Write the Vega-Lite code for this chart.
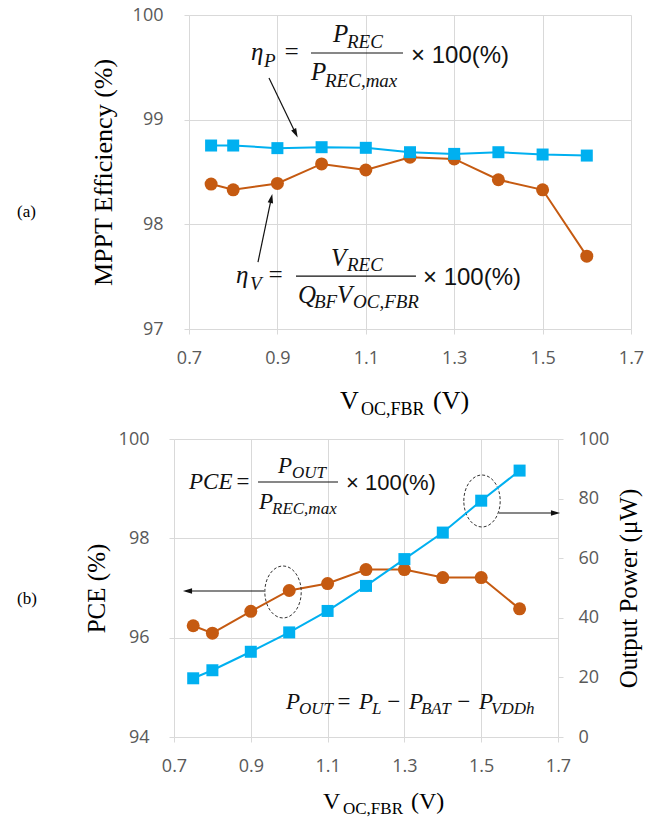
{
  "$schema": "https://vega.github.io/schema/vega-lite/v6.json",
  "background": "white",
  "padding": {"left": 16, "top": 6, "right": 0, "bottom": 0},
  "autosize": {"type": "pad"},
  "spacing": 10,
  "config": {
    "view": {"stroke": null},
    "axis": {
      "labelFont": "Open Sans", "labelFontSize": 18, "labelColor": "#595959",
      "gridColor": "#d9d9d9", "tickColor": "#d9d9d9", "domain": false, "tickSize": 5,
      "titleFont": "Liberation Serif", "titleFontWeight": "normal", "titleColor": "#000000",
      "labelFlush": false, "labelOverlap": false
    }
  },
  "datasets": {
    "top": [
      {"v":0.75,"s":"V","e":98.385},{"v":0.8,"s":"V","e":98.330},{"v":0.9,"s":"V","e":98.391},{"v":1.0,"s":"V","e":98.577},{"v":1.1,"s":"V","e":98.519},{"v":1.2,"s":"V","e":98.641},{"v":1.3,"s":"V","e":98.625},{"v":1.4,"s":"V","e":98.426},{"v":1.5,"s":"V","e":98.330},{"v":1.6,"s":"V","e":97.696},
      {"v":0.75,"s":"P","e":98.753},{"v":0.8,"s":"P","e":98.753},{"v":0.9,"s":"P","e":98.728},{"v":1.0,"s":"P","e":98.737},{"v":1.1,"s":"P","e":98.731},{"v":1.2,"s":"P","e":98.689},{"v":1.3,"s":"P","e":98.673},{"v":1.4,"s":"P","e":98.689},{"v":1.5,"s":"P","e":98.667},{"v":1.6,"s":"P","e":98.657}
    ],
    "bot": [
      {"v":0.75,"pce":96.24,"pout":19.7},{"v":0.8,"pce":96.09,"pout":22.4},{"v":0.9,"pce":96.53,"pout":28.6},{"v":1.0,"pce":96.95,"pout":35.1},{"v":1.1,"pce":97.09,"pout":42.3},{"v":1.2,"pce":97.37,"pout":50.7},{"v":1.3,"pce":97.37,"pout":59.7},{"v":1.4,"pce":97.21,"pout":68.6},{"v":1.5,"pce":97.21,"pout":79.3},{"v":1.6,"pce":96.58,"pout":89.4}
    ],
    "topMain": [{"v":0.8403,"e":99.570,"t":"η"},{"v":0.9127,"e":99.570,"t":"="},{"v":1.0258,"e":99.742,"t":"P"},{"v":0.976,"e":99.379,"t":"P"},{"v":0.8063,"e":97.440,"t":"η"},{"v":0.8765,"e":97.440,"t":"="},{"v":1.0213,"e":97.602,"t":"V"},{"v":0.9466,"e":97.248,"t":"Q"},{"v":1.0348,"e":97.248,"t":"V"}],
    "topSub": [{"v":0.8697,"e":99.503,"t":"P"},{"v":1.0575,"e":99.685,"t":"REC"},{"v":1.0077,"e":99.312,"t":"REC,max"},{"v":0.8380,"e":97.373,"t":"V"},{"v":1.0575,"e":97.554,"t":"REC"},{"v":0.9828,"e":97.201,"t":"BF"},{"v":1.0710,"e":97.201,"t":"OC,FBR"}],
    "topPlain": [{"v":1.2023,"e":99.541,"t":"× 100(%)"},{"v":1.2294,"e":97.420,"t":"× 100(%)"}],
    "topFrac": [{"v":0.976,"v2":1.1842,"e":99.637},{"v":0.9421,"v2":1.2135,"e":97.506}],
    "topArrow": [{"id":1,"v":0.881,"e":99.398,"v2":0.9398,"e2":98.882},{"id":2,"v":0.8561,"e":97.640,"v2":0.8855,"e2":98.233}],
    "topTitle": [{"v":1.0416,"e":96.236,"t":"V"},{"v":1.2520,"e":96.236,"t":"(V)"}],
    "topTitleSub": [{"v":1.0891,"e":96.178,"t":"OC,FBR"}],
    "topTag": [{"v":0.3109,"e":98.118,"t":"(a)"}],
    "botMain": [{"v":0.7391,"pce":98.993,"t":"PCE"},{"v":0.8589,"pce":98.993,"t":"="},{"v":0.9708,"pce":99.315,"t":"P"},{"v":0.9214,"pce":98.591,"t":"P"},{"v":0.9917,"pce":94.564,"t":"P"},{"v":1.1219,"pce":94.564,"t":"="},{"v":1.1818,"pce":94.564,"t":"P"},{"v":1.2521,"pce":94.564,"t":"−"},{"v":1.3120,"pce":94.564,"t":"P"},{"v":1.4344,"pce":94.564,"t":"−"},{"v":1.4943,"pce":94.564,"t":"P"}],
    "botSub": [{"v":1.0073,"pce":99.215,"t":"OUT"},{"v":0.9552,"pce":98.490,"t":"REC,max"},{"v":1.0255,"pce":94.463,"t":"OUT"},{"v":1.2156,"pce":94.463,"t":"L"},{"v":1.3432,"pce":94.463,"t":"BAT"},{"v":1.5255,"pce":94.463,"t":"VDDh"}],
    "botPlain": [{"v":1.1479,"pce":98.973,"t":"× 100(%)"}],
    "botFrac": [{"v":0.9188,"v2":1.1271,"pce":99.134}],
    "botEll": [{"v":0.9839,"pce":96.920},{"v":1.5021,"pce":98.752}],
    "botArrow": [{"id":1,"v":0.9344,"v2":0.7391,"pce":96.940,"pce2":96.940},{"id":2,"v":1.5464,"v2":1.6896,"pce":98.510,"pce2":98.510}],
    "botTitle": [{"v":1.0880,"pce":92.551,"t":"V"},{"v":1.3172,"pce":92.551,"t":"(V)"}],
    "botTitleSub": [{"v":1.1401,"pce":92.450,"t":"OC,FBR"}],
    "botTag": [{"v":0.2911,"pce":96.779,"t":"(b)"}]
  },
  "vconcat": [
    {
      "width": 442, "height": 314,
      "layer": [
        {
          "data": {"name": "top"},
          "transform": [{"filter": "datum.s === 'V'"}],
          "mark": {"type": "line", "color": "#c55a11", "strokeWidth": 2, "point": {"filled": true, "shape": "circle", "size": 169, "color": "#c55a11"}},
          "encoding": {
            "x": {"field": "v", "type": "quantitative", "scale": {"domain": [0.7, 1.7]},
              "axis": {"values": [0.7, 0.9, 1.1, 1.3, 1.5, 1.7], "format": ".1f", "title": null, "grid": true, "labelPadding": 15}},
            "y": {"field": "e", "type": "quantitative", "scale": {"domain": [97, 100]},
              "axis": {"values": [97, 98, 99, 100], "format": "d", "grid": true, "labelPadding": 21, "title": "MPPT Efficiency (%)", "titleFontSize": 26, "titlePadding": 16}}
          }
        },
        {
          "data": {"name": "top"},
          "transform": [{"filter": "datum.s === 'P'"}],
          "mark": {"type": "line", "color": "#00b0f0", "strokeWidth": 2, "point": {"filled": true, "shape": "square", "size": 144, "color": "#00b0f0"}},
          "encoding": {
            "x": {"field": "v", "type": "quantitative"},
            "y": {"field": "e", "type": "quantitative"}
          }
        },
        {
          "data": {"name": "topMain"},
          "mark": {"type": "text", "align": "left", "baseline": "alphabetic", "font": "Liberation Serif", "fontStyle": "italic", "fontSize": 25, "color": "#111111"},
          "encoding": {"x": {"field": "v", "type": "quantitative"}, "y": {"field": "e", "type": "quantitative"}, "text": {"field": "t"}}
        },
        {
          "data": {"name": "topSub"},
          "mark": {"type": "text", "align": "left", "baseline": "alphabetic", "font": "Liberation Serif", "fontStyle": "italic", "fontSize": 19, "color": "#111111"},
          "encoding": {"x": {"field": "v", "type": "quantitative"}, "y": {"field": "e", "type": "quantitative"}, "text": {"field": "t"}}
        },
        {
          "data": {"name": "topPlain"},
          "mark": {"type": "text", "align": "left", "baseline": "alphabetic", "font": "Liberation Sans", "fontSize": 24, "color": "#111111"},
          "encoding": {"x": {"field": "v", "type": "quantitative"}, "y": {"field": "e", "type": "quantitative"}, "text": {"field": "t"}}
        },
        {
          "data": {"name": "topFrac"},
          "mark": {"type": "rule", "color": "#111111", "strokeWidth": 1.2},
          "encoding": {"x": {"field": "v", "type": "quantitative"}, "x2": {"field": "v2"}, "y": {"field": "e", "type": "quantitative"}}
        },
        {
          "data": {"name": "topArrow"},
          "mark": {"type": "rule", "color": "#111111", "strokeWidth": 1.2},
          "encoding": {"x": {"field": "v", "type": "quantitative"}, "x2": {"field": "v2"}, "y": {"field": "e", "type": "quantitative"}, "y2": {"field": "e2"}}
        },
        {
          "data": {"name": "topArrow"},
          "transform": [{"filter": "datum.id === 1"}],
          "mark": {"type": "point", "shape": "M0,-1L0.45,0.5L-0.45,0.5Z", "size": 150, "filled": true, "opacity": 1, "color": "#111111", "angle": 154},
          "encoding": {"x": {"field": "v2", "type": "quantitative"}, "y": {"field": "e2", "type": "quantitative"}}
        },
        {
          "data": {"name": "topArrow"},
          "transform": [{"filter": "datum.id === 2"}],
          "mark": {"type": "point", "shape": "M0,-1L0.45,0.5L-0.45,0.5Z", "size": 150, "filled": true, "opacity": 1, "color": "#111111", "angle": 12},
          "encoding": {"x": {"field": "v2", "type": "quantitative"}, "y": {"field": "e2", "type": "quantitative"}}
        },
        {
          "data": {"name": "topTitle"},
          "mark": {"type": "text", "align": "left", "baseline": "alphabetic", "font": "Liberation Serif", "fontSize": 26, "color": "#000000"},
          "encoding": {"x": {"field": "v", "type": "quantitative"}, "y": {"field": "e", "type": "quantitative"}, "text": {"field": "t"}}
        },
        {
          "data": {"name": "topTitleSub"},
          "mark": {"type": "text", "align": "left", "baseline": "alphabetic", "font": "Liberation Serif", "fontSize": 18, "color": "#000000"},
          "encoding": {"x": {"field": "v", "type": "quantitative"}, "y": {"field": "e", "type": "quantitative"}, "text": {"field": "t"}}
        },
        {
          "data": {"name": "topTag"},
          "mark": {"type": "text", "align": "left", "baseline": "middle", "font": "Liberation Serif", "fontSize": 17, "color": "#000000"},
          "encoding": {"x": {"field": "v", "type": "quantitative"}, "y": {"field": "e", "type": "quantitative"}, "text": {"field": "t"}}
        }
      ]
    },
    {
      "width": 369, "height": 298,
      "layer": [
        {
          "layer": [
            {
              "data": {"name": "bot"},
              "mark": {"type": "line", "color": "#c55a11", "strokeWidth": 2, "point": {"filled": true, "shape": "circle", "size": 169, "color": "#c55a11"}},
              "encoding": {
                "x": {"field": "v", "type": "quantitative", "scale": {"domain": [0.7, 1.7], "range": [-15, 369]},
                  "axis": {"values": [0.7, 0.9, 1.1, 1.3, 1.5, 1.7], "format": ".1f", "title": null, "grid": true, "labelPadding": 15}},
                "y": {"field": "pce", "type": "quantitative", "scale": {"domain": [94, 100]},
                  "axis": {"values": [94, 96, 98, 100], "format": "d", "grid": true, "offset": 15, "labelPadding": 20, "title": "PCE (%)", "titleFontSize": 25, "titlePadding": 9}}
              }
            },
            {
              "data": {"name": "botMain"},
              "mark": {"type": "text", "align": "left", "baseline": "alphabetic", "font": "Liberation Serif", "fontStyle": "italic", "fontSize": 23, "color": "#111111"},
              "encoding": {"x": {"field": "v", "type": "quantitative"}, "y": {"field": "pce", "type": "quantitative"}, "text": {"field": "t"}}
            },
            {
              "data": {"name": "botSub"},
              "mark": {"type": "text", "align": "left", "baseline": "alphabetic", "font": "Liberation Serif", "fontStyle": "italic", "fontSize": 17, "color": "#111111"},
              "encoding": {"x": {"field": "v", "type": "quantitative"}, "y": {"field": "pce", "type": "quantitative"}, "text": {"field": "t"}}
            },
            {
              "data": {"name": "botPlain"},
              "mark": {"type": "text", "align": "left", "baseline": "alphabetic", "font": "Liberation Sans", "fontSize": 22, "color": "#111111"},
              "encoding": {"x": {"field": "v", "type": "quantitative"}, "y": {"field": "pce", "type": "quantitative"}, "text": {"field": "t"}}
            },
            {
              "data": {"name": "botFrac"},
              "mark": {"type": "rule", "color": "#111111", "strokeWidth": 1.2},
              "encoding": {"x": {"field": "v", "type": "quantitative"}, "x2": {"field": "v2"}, "y": {"field": "pce", "type": "quantitative"}}
            },
            {
              "data": {"name": "botEll"},
              "mark": {"type": "point", "shape": "M-0.7,0A0.7,1,0,1,1,0.7,0A0.7,1,0,1,1,-0.7,0Z", "size": 2704, "filled": false, "opacity": 1, "color": "#333333", "strokeWidth": 1, "strokeDash": [3, 2]},
              "encoding": {"x": {"field": "v", "type": "quantitative"}, "y": {"field": "pce", "type": "quantitative"}}
            },
            {
              "data": {"name": "botArrow"},
              "mark": {"type": "rule", "color": "#111111", "strokeWidth": 1.2},
              "encoding": {"x": {"field": "v", "type": "quantitative"}, "x2": {"field": "v2"}, "y": {"field": "pce", "type": "quantitative"}, "y2": {"field": "pce2"}}
            },
            {
              "data": {"name": "botArrow"},
              "transform": [{"filter": "datum.id === 1"}],
              "mark": {"type": "point", "shape": "M0,-1L0.45,0.5L-0.45,0.5Z", "size": 150, "filled": true, "opacity": 1, "color": "#111111", "angle": 270},
              "encoding": {"x": {"field": "v2", "type": "quantitative"}, "y": {"field": "pce2", "type": "quantitative"}}
            },
            {
              "data": {"name": "botArrow"},
              "transform": [{"filter": "datum.id === 2"}],
              "mark": {"type": "point", "shape": "M0,-1L0.45,0.5L-0.45,0.5Z", "size": 150, "filled": true, "opacity": 1, "color": "#111111", "angle": 90},
              "encoding": {"x": {"field": "v2", "type": "quantitative"}, "y": {"field": "pce2", "type": "quantitative"}}
            },
            {
              "data": {"name": "botTitle"},
              "mark": {"type": "text", "align": "left", "baseline": "alphabetic", "font": "Liberation Serif", "fontSize": 24, "color": "#000000"},
              "encoding": {"x": {"field": "v", "type": "quantitative"}, "y": {"field": "pce", "type": "quantitative"}, "text": {"field": "t"}}
            },
            {
              "data": {"name": "botTitleSub"},
              "mark": {"type": "text", "align": "left", "baseline": "alphabetic", "font": "Liberation Serif", "fontSize": 17, "color": "#000000"},
              "encoding": {"x": {"field": "v", "type": "quantitative"}, "y": {"field": "pce", "type": "quantitative"}, "text": {"field": "t"}}
            },
            {
              "data": {"name": "botTag"},
              "mark": {"type": "text", "align": "left", "baseline": "middle", "font": "Liberation Serif", "fontSize": 17, "color": "#000000"},
              "encoding": {"x": {"field": "v", "type": "quantitative"}, "y": {"field": "pce", "type": "quantitative"}, "text": {"field": "t"}}
            }
          ]
        },
        {
          "data": {"name": "bot"},
          "mark": {"type": "line", "color": "#00b0f0", "strokeWidth": 2, "point": {"filled": true, "shape": "square", "size": 144, "color": "#00b0f0"}},
          "encoding": {
            "x": {"field": "v", "type": "quantitative"},
            "y": {"field": "pout", "type": "quantitative", "scale": {"domain": [0, 100]},
              "axis": {"orient": "right", "values": [0, 20, 40, 60, 80, 100], "format": "d", "grid": false, "labelPadding": 15, "title": "Output Power (μW)", "titleFontSize": 25, "titleAngle": 270, "titleBaseline": "top", "titlePadding": 8}}
          }
        }
      ],
      "resolve": {"scale": {"y": "independent"}}
    }
  ]
}
